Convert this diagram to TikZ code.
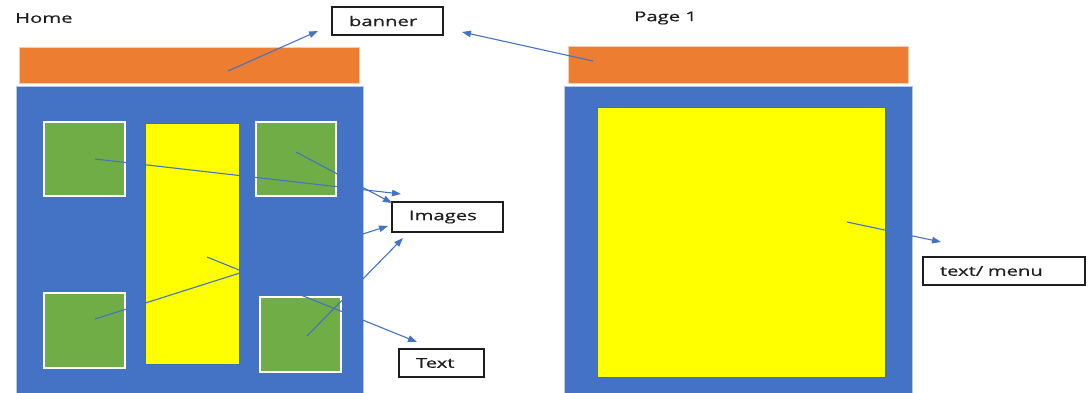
\documentclass[tikz,border=0pt]{standalone}
\usepackage{fontspec}
\setmainfont{Open Sans}[FakeStretch=1.5,FakeBold=0.6]
\usetikzlibrary{arrows.meta}
\definecolor{pblue}{HTML}{4472C4}
\definecolor{porange}{HTML}{ED7D31}
\definecolor{pgreen}{HTML}{70AD47}
\definecolor{pyellow}{HTML}{FFFF00}
\definecolor{ybord}{HTML}{41719C}
\definecolor{lblue}{HTML}{B4C7E7}
\definecolor{lorange}{HTML}{F8CBAD}
\definecolor{ink}{HTML}{1E1E1E}
\tikzset{
  panel/.style={fill=pblue, draw=lblue, line width=0.8pt},
  band/.style={fill=porange, draw=lorange, line width=0.8pt},
  img/.style={fill=pgreen, draw=white, line width=2pt},
  txt/.style={fill=pyellow, draw=ybord, line width=1pt},
  callout/.style={draw=ink, line width=1.4pt, fill=white, align=left, inner xsep=17pt,
     inner ysep=0pt, minimum height=28pt, font=\fontsize{13.5}{16}\selectfont, text=ink},
  title/.style={anchor=west, inner sep=0pt, font=\fontsize{13.5}{16}\selectfont, text=ink},
  pointer/.style={draw=pblue, line width=1.1pt, -{Triangle[length=9pt,width=6.5pt]}}
}
\begin{document}
\begin{tikzpicture}[x=1pt,y=-1pt]
\useasboundingbox (0,0) rectangle (1088,392);
% Home page
\node[title] (home) at (15,18) {Home};
\draw[band] (19,47) rectangle (359,83);
\draw[panel] (16,86) rectangle (363,394);
\draw[img] (44,122) rectangle (125,196);
\draw[txt] (145,123) rectangle (239,364);
\draw[img] (256,122) rectangle (336,196);
\draw[img] (44,293) rectangle (125,368);
\draw[img] (260,297) rectangle (341,372);
% Page 1
\node[title] (page) at (634,18) {Page 1};
\draw[band] (568,46) rectangle (908,83);
\draw[panel] (564,86) rectangle (912,394);
\draw[txt] (597,107) rectangle (885,377);
% callouts
\node[callout, text width=77pt] (banner) at (387.5,21) {banner};
\node[callout, text width=77pt, minimum height=30pt] (images) at (447.5,217) {Images};
\node[callout, text width=51pt] (text) at (441.5,363) {Text};
\node[callout, text width=128pt] (menu) at (1004,271) {text/ menu};
% anchor points
\coordinate (s1) at (228,71);  \coordinate (e1) at (318,31);
\coordinate (s2) at (593,61);  \coordinate (e2) at (462,32);
\coordinate (s3) at (95,159);  \coordinate (e3) at (401,194);
\coordinate (s4) at (296,152); \coordinate (e4) at (392,203);
\coordinate (s5) at (95,319);  \coordinate (e5) at (388,226);
\coordinate (s6) at (307,336); \coordinate (e6) at (403,238);
\coordinate (s7) at (207,257); \coordinate (e7) at (417,342);
\coordinate (s8) at (847,222); \coordinate (e8) at (941,242);
\draw[pointer] (s1) -- (e1);
\draw[pointer] (s2) -- (e2);
\draw[pointer] (s3) -- (e3);
\draw[pointer] (s4) -- (e4);
\draw[pointer] (s5) -- (e5);
\draw[pointer] (s6) -- (e6);
\draw[pointer] (s7) -- (e7);
\draw[pointer] (s8) -- (e8);
\end{tikzpicture}
\end{document}
